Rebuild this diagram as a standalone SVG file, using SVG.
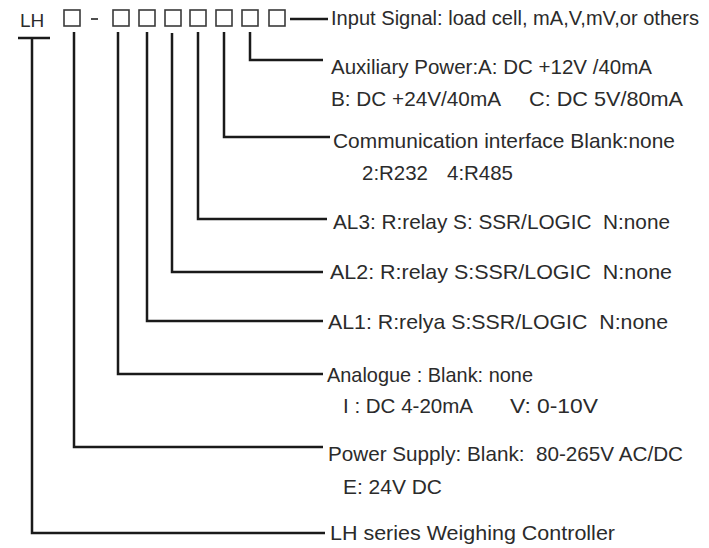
<svg xmlns="http://www.w3.org/2000/svg" width="709" height="548" viewBox="0 0 709 548">
<style>
.t{font-family:"Liberation Sans",Arial,sans-serif;font-size:21px;fill:#2b2b2b;white-space:pre}
.c{fill:none;stroke:#1a1a1a;stroke-width:2.5;stroke-linejoin:miter;stroke-linecap:butt}
.b{fill:#fff;stroke:#3a3a3a;stroke-width:1.6}
</style>
<rect width="709" height="548" fill="#fff"/>
<g id="code">
<text class="t" x="20" y="27" style="font-size:19px">LH</text>
<rect class="b" x="64" y="10" width="16" height="16"/>
<line x1="91" y1="19" x2="98" y2="19" stroke="#3a3a3a" stroke-width="1.8"/>
<rect class="b" x="113" y="10" width="16" height="16"/>
<rect class="b" x="139" y="10" width="16" height="16"/>
<rect class="b" x="165" y="10" width="16" height="16"/>
<rect class="b" x="190" y="10" width="16" height="16"/>
<rect class="b" x="216" y="10" width="16" height="16"/>
<rect class="b" x="242" y="10" width="16" height="16"/>
<rect class="b" x="269" y="10" width="16" height="16"/>
</g>
<g id="connectors">
<path class="c" d="M290 19 H328"/>
<path class="c" d="M250 32 V60 H323"/>
<path class="c" d="M224 32 V137 H330"/>
<path class="c" d="M198 32 V219 H327"/>
<path class="c" d="M172 33 V272 H323"/>
<path class="c" d="M147 32 V321 H323"/>
<path class="c" d="M118 32 V374 H323"/>
<path class="c" d="M74 32 V447 H323"/>
<path class="c" d="M18 38 H50 M32 38 V533 H325"/>
</g>
<g id="input"><text class="t" x="331" y="25" style="font-size:20px" textLength="368" lengthAdjust="spacingAndGlyphs">Input Signal: load cell, mA,V,mV,or others</text></g>
<g id="auxiliary">
<text class="t" x="331" y="74" textLength="321" lengthAdjust="spacingAndGlyphs">Auxiliary Power:A: DC +12V /40mA</text>
<text class="t" x="331" y="106" textLength="170" lengthAdjust="spacingAndGlyphs">B: DC +24V/40mA</text>
<text class="t" x="529" y="106" textLength="154" lengthAdjust="spacingAndGlyphs">C: DC 5V/80mA</text>
</g>
<g id="communication">
<text class="t" x="333" y="148" textLength="342" lengthAdjust="spacingAndGlyphs">Communication interface Blank:none</text>
<text class="t" x="362" y="180" textLength="66" lengthAdjust="spacingAndGlyphs">2:R232</text>
<text class="t" x="447" y="180" textLength="66" lengthAdjust="spacingAndGlyphs">4:R485</text>
</g>
<g id="al3"><text class="t" x="333" y="229" textLength="337" lengthAdjust="spacingAndGlyphs">AL3: R:relay S: SSR/LOGIC  N:none</text></g>
<g id="al2"><text class="t" x="330" y="279" textLength="342" lengthAdjust="spacingAndGlyphs">AL2: R:relay S:SSR/LOGIC  N:none</text></g>
<g id="al1"><text class="t" x="328" y="329" textLength="340" lengthAdjust="spacingAndGlyphs">AL1: R:relya S:SSR/LOGIC  N:none</text></g>
<g id="analogue">
<text class="t" x="327" y="382" textLength="206" lengthAdjust="spacingAndGlyphs">Analogue : Blank: none</text>
<text class="t" x="343" y="413" textLength="130" lengthAdjust="spacingAndGlyphs">I : DC 4-20mA</text>
<text class="t" x="510" y="413" textLength="88" lengthAdjust="spacingAndGlyphs">V: 0-10V</text>
</g>
<g id="power">
<text class="t" x="328" y="461" textLength="355" lengthAdjust="spacingAndGlyphs">Power Supply: Blank:  80-265V AC/DC</text>
<text class="t" x="343" y="494" textLength="99" lengthAdjust="spacingAndGlyphs">E: 24V DC</text>
</g>
<g id="series"><text class="t" x="330" y="540" textLength="285" lengthAdjust="spacingAndGlyphs">LH series Weighing Controller</text></g>
</svg>
